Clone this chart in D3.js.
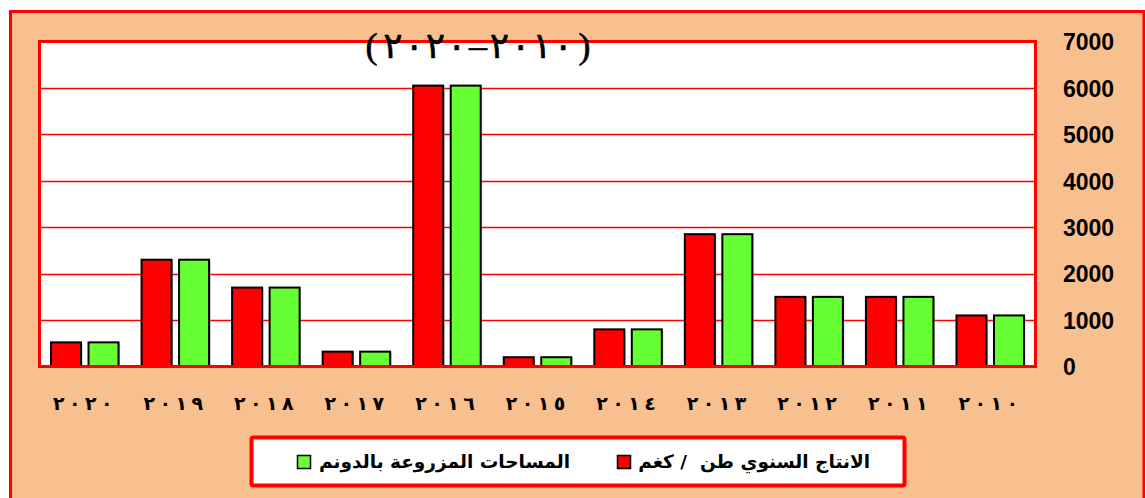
<!DOCTYPE html>
<html>
<head>
<meta charset="utf-8">
<script src="https://cdn.jsdelivr.net/npm/d3@7"></script>
<style>
  body { margin: 0; background: #fff; }
  svg { display: block; }
</style>
</head>
<body>
<svg></svg>
<script>
var width = 1145;
var height = 498;

// data, years left to right are shown in reverse (RTL)
var years = [2010, 2011, 2012, 2013, 2014, 2015, 2016, 2017, 2018, 2019, 2020];
var yearLabels = ["٢٠١٠", "٢٠١١", "٢٠١٢", "٢٠١٣", "٢٠١٤", "٢٠١٥", "٢٠١٦", "٢٠١٧", "٢٠١٨", "٢٠١٩", "٢٠٢٠"];
var production = [1100, 1500, 1500, 2850, 800, 200, 6050, 320, 1700, 2300, 520];
var area = [1100, 1500, 1500, 2850, 800, 200, 6050, 320, 1700, 2300, 520];
var yTicks = [0, 1000, 2000, 3000, 4000, 5000, 6000, 7000];
var seriesNames = ["الانتاج السنوي طن  / كغم", "المساحات المزروعة بالدونم"];
var seriesColors = ["#ff0000", "#66ff33"];
var title = "(٢٠٢٠–٢٠١٠)";

var plot = { left: 39.5, top: 41.5, right: 1035.5, bottom: 366.5 };

var svg = d3.select("svg")
  .attr("width", width)
  .attr("height", height);

// outer peach frame
svg.append("rect")
  .attr("x", 10.5).attr("y", 11.5)
  .attr("width", 1133.5).attr("height", 520)
  .attr("fill", "#f9c08f")
  .attr("stroke", "#ff0000")
  .attr("stroke-width", 3);

// plot area
svg.append("rect")
  .attr("x", plot.left).attr("y", plot.top)
  .attr("width", plot.right - plot.left).attr("height", plot.bottom - plot.top)
  .attr("fill", "#ffffff");

var x = d3.scaleBand()
  .domain(years)
  .range([plot.right, plot.left]);

var y = d3.scaleLinear()
  .domain([0, 7000])
  .range([plot.bottom, plot.top]);

// gridlines
svg.append("g")
  .selectAll("line")
  .data(yTicks.filter(d => d > 0 && d < 7000))
  .enter()
  .append("line")
    .attr("x1", plot.left).attr("x2", plot.right)
    .attr("y1", d => Math.round(y(d)) + 0.5)
    .attr("y2", d => Math.round(y(d)) + 0.5)
    .attr("stroke", "#ff0000")
    .attr("stroke-width", 1.6);

// bars
var barW = 30;
var inner = 7.5;
var series = [production, area];
series.forEach(function (vals, s) {
  var g = svg.append("g");
  // soft shadow
  g.selectAll(".shadow")
    .data(vals)
    .enter()
    .append("rect")
      .attr("x", (d, i) => x(years[i]) + x.bandwidth() / 2 - barW - inner / 2 + s * (barW + inner) + 1.5)
      .attr("y", d => y(d) + 1.5)
      .attr("width", barW)
      .attr("height", d => plot.bottom - y(d) - 1.5)
      .attr("fill", "#9a9a9a")
      .attr("opacity", 0.6);
  g.selectAll(".bar")
    .data(vals)
    .enter()
    .append("rect")
      .attr("x", (d, i) => x(years[i]) + x.bandwidth() / 2 - barW - inner / 2 + s * (barW + inner))
      .attr("y", d => y(d))
      .attr("width", barW)
      .attr("height", d => plot.bottom - y(d))
      .attr("fill", seriesColors[s])
      .attr("stroke", "#000")
      .attr("stroke-width", 2);
});

// bottom axis line
svg.append("line")
  .attr("x1", plot.left).attr("x2", plot.right)
  .attr("y1", plot.bottom).attr("y2", plot.bottom)
  .attr("stroke", "#808080")
  .attr("stroke-width", 2.5);

// plot border
svg.append("rect")
  .attr("x", plot.left).attr("y", plot.top)
  .attr("width", plot.right - plot.left).attr("height", plot.bottom - plot.top)
  .attr("fill", "none")
  .attr("stroke", "#ff0000")
  .attr("stroke-width", 3);

// y axis on right
var yAxis = d3.axisRight(y).tickValues(yTicks).tickSize(0).tickPadding(0).tickFormat(d3.format("d"));
var ya = svg.append("g")
  .attr("transform", "translate(1063,0)")
  .call(yAxis);
ya.select(".domain").remove();
ya.selectAll("text")
  .attr("x", 0)
  .attr("dy", "0.36em")
  .style("font-family", "'Liberation Sans', Arial, sans-serif")
  .style("font-weight", "bold")
  .style("font-size", "23px")
  .attr("fill", "#000");

// x labels: digits spread out one by one (letter-spacing is ignored for arabic digits)
var digitPitch = 16;
var xl = svg.append("g");
years.forEach(function (yr, i) {
  var chars = Array.from(yearLabels[i]);
  var cx = x(yr) + x.bandwidth() / 2 - 2;
  xl.selectAll(null)
    .data(chars)
    .enter()
    .append("text")
      .attr("x", (c, j) => cx + (j - (chars.length - 1) / 2) * digitPitch)
      .attr("y", 410)
      .attr("text-anchor", "middle")
      .style("font-family", "'DejaVu Sans', sans-serif")
      .style("font-weight", "bold")
      .style("font-size", "19px")
      .text(c => c);
});

// title, same idea
var titleChars = Array.from(title);
svg.append("g")
  .selectAll("text")
  .data(titleChars)
  .enter()
  .append("text")
    .attr("x", (c, j) => 478 + (j - (titleChars.length - 1) / 2) * 21.3)
    .attr("y", 58)
    .attr("text-anchor", "middle")
    .style("font-family", "'Liberation Serif', 'DejaVu Sans', serif")
    .style("font-size", "36px")
    .attr("stroke", "#000")
    .attr("stroke-width", 0.6)
    .text(c => c);

// legend
svg.append("rect")
  .attr("x", 251.5).attr("y", 437.5)
  .attr("width", 653).attr("height", 48)
  .attr("rx", 2)
  .attr("fill", "#fff")
  .attr("stroke", "#ff0000")
  .attr("stroke-width", 4);

var legendItems = [
  { sq: 617, tx: 870 },
  { sq: 297, tx: 570 }
];
legendItems.forEach(function (it, i) {
  svg.append("rect")
    .attr("x", it.sq + 0.5).attr("y", 455.5)
    .attr("width", 13).attr("height", 13)
    .attr("fill", seriesColors[i])
    .attr("stroke", "#000")
    .attr("stroke-width", 1.5);
  svg.append("text")
    .attr("x", it.tx)
    .attr("y", 468)
    .attr("text-anchor", "start")
    .attr("direction", "rtl")
    .style("direction", "rtl")
    .style("white-space", "pre")
    .style("font-family", "'DejaVu Sans', sans-serif")
    .style("font-weight", "bold")
    .style("font-size", "18.5px")
    .text(seriesNames[i]);
});
</script>
</body>
</html>
